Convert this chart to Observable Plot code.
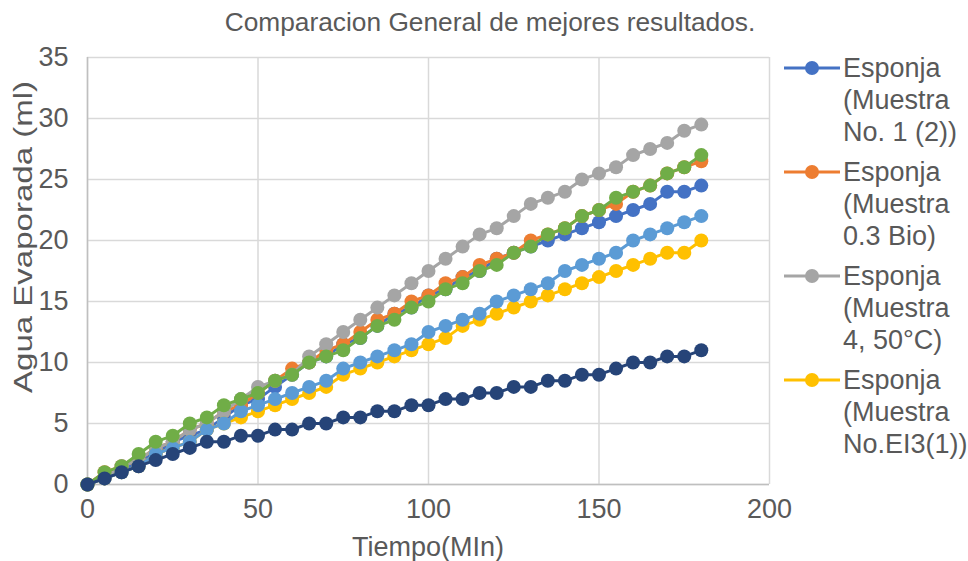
<!DOCTYPE html>
<html>
<head>
<meta charset="utf-8">
<script src="https://cdn.jsdelivr.net/npm/d3@7"></script>
<script src="https://cdn.jsdelivr.net/npm/@observablehq/plot@0.6"></script>
<style>
  html, body { margin: 0; padding: 0; background: #fff; }
  #wrap { position: relative; width: 968px; height: 561px; font-family: "Liberation Sans", Arial, sans-serif; color: #595959; overflow: hidden; }
  #plot { position: absolute; left: 0; top: 0; }
  .title { position: absolute; top: 22px; left: 490px; transform: translate(-50%, -50%); white-space: nowrap; font-size: 26.3px; line-height: 30px; }
  .ylab { position: absolute; left: 23px; top: 237px; transform: translate(-50%, -50%) rotate(-90deg) scaleX(1.27); white-space: nowrap; font-size: 26px; line-height: 30px; }
  .xlab { position: absolute; left: 428px; top: 547px; transform: translate(-50%, -50%); white-space: nowrap; font-size: 27px; line-height: 30px; }
  #legend { position: absolute; left: 784px; top: 52px; }
  .entry { display: flex; align-items: flex-start; margin-bottom: 8px; }
  .entry svg { flex: none; margin-top: 6px; }
  .entry .txt { font-size: 27px; line-height: 32px; margin-left: 3px; white-space: nowrap; }
</style>
</head>
<body>
<div id="wrap">
  <div id="plot"></div>
  <div class="title">Comparacion General de mejores resultados.</div>
  <div class="ylab">Agua Evaporada (ml)</div>
  <div class="xlab">Tiempo(MIn)</div>
  <div id="legend"></div>
</div>
<script>
// ---- data ----
const tiempo = [0,5,10,15,20,25,30,35,40,45,50,55,60,65,70,75,80,85,90,95,100,105,110,115,120,125,130,135,140,145,150,155,160,165,170,175,180];

const muestra1 = [0,0.5,1,2,2.5,3.5,4,4.5,5.5,6.5,7,8,9,10,10.5,11.5,12,13,14,14.5,15.5,16,17,17.5,18.5,19,19.5,20,20.5,21,21.5,22,22.5,23,24,24,24.5];
const muestraBio = [0,1,1.5,2,3,3.5,4.5,5,6,6.5,7.5,8.5,9.5,10,11,11.5,12.5,13.5,14,15,15.5,16.5,17,18,18.5,19,20,20.5,21,22,22.5,23,24,24.5,25.5,26,26.5];
const muestra4 = [0,0.5,1.5,2,3,3.5,4.5,5,6,7,8,8.5,9,10.5,11.5,12.5,13.5,14.5,15.5,16.5,17.5,18.5,19.5,20.5,21,22,23,23.5,24,25,25.5,26,27,27.5,28,29,29.5];
const muestraEI3 = [0,0.5,1,1.5,2.5,3,3.5,4.5,5,5.5,6,6.5,7,7.5,8,9,9.5,10,10.5,11,11.5,12,13,13.5,14,14.5,15,15.5,16,16.5,17,17.5,18,18.5,19,19,20];
const serie5 = [0,0.5,1,1.5,2.5,3,3.5,4.5,5,6,6.5,7,7.5,8,8.5,9.5,10,10.5,11,11.5,12.5,13,13.5,14,15,15.5,16,16.5,17.5,18,18.5,19,20,20.5,21,21.5,22];
const serie6 = [0,1,1.5,2.5,3.5,4,5,5.5,6.5,7,7.5,8.5,9,10,10.5,11,12,13,13.5,14.5,15,16,16.5,17.5,18,19,19.5,20.5,21,22,22.5,23.5,24,24.5,25.5,26,27];
const serie7 = [0,0.5,1,1.5,2,2.5,3,3.5,3.5,4,4,4.5,4.5,5,5,5.5,5.5,6,6,6.5,6.5,7,7,7.5,7.5,8,8,8.5,8.5,9,9,9.5,10,10,10.5,10.5,11];

const seriesNames = ["Esponja (Muestra No. 1 (2))", "Esponja (Muestra 0.3 Bio)", "Esponja (Muestra 4, 50°C)", "Esponja (Muestra No.EI3(1))", "Serie 5", "Serie 6", "Serie 7"];
const legendLines = [["Esponja", "(Muestra", "No. 1 (2))"], ["Esponja", "(Muestra", "0.3 Bio)"], ["Esponja", "(Muestra", "4, 50°C)"], ["Esponja", "(Muestra", "No.EI3(1))"]];
const seriesColors = ["#4472C4", "#ED7D31", "#A5A5A5", "#FFC000", "#5B9BD5", "#70AD47", "#264478"];
const seriesValues = [muestra1, muestraBio, muestra4, muestraEI3, serie5, serie6, serie7];

const xTicks = [0, 50, 100, 150, 200];
const yTicks = [0, 5, 10, 15, 20, 25, 30, 35];

// ---- build ----
const rows = seriesValues.map((vals, i) => vals.map((v, j) => ({serie: seriesNames[i], t: tiempo[j], v})));

const marks = [
  Plot.gridX(xTicks, {stroke: "#d9d9d9", strokeOpacity: 1, strokeWidth: 1.5}),
  Plot.gridY(yTicks, {stroke: "#d9d9d9", strokeOpacity: 1, strokeWidth: 1.5}),
  Plot.ruleY([0], {stroke: "#bfbfbf", strokeWidth: 1.5}),
  Plot.ruleX([0], {stroke: "#bfbfbf", strokeWidth: 1.5}),
  Plot.axisX(xTicks, {tickSize: 0, tickPadding: 14, fontSize: 27, fill: "#595959", label: null}),
  Plot.axisY(yTicks, {tickSize: 0, tickPadding: 19, fontSize: 27, fill: "#595959", label: null})
];
rows.forEach((r, i) => {
  marks.push(Plot.line(r, {x: "t", y: "v", stroke: seriesColors[i], strokeWidth: 3}));
  marks.push(Plot.dot(r, {x: "t", y: "v", r: 7, fill: seriesColors[i], stroke: "none"}));
});

const chart = Plot.plot({
  width: 968,
  height: 561,
  marginLeft: 87,
  marginRight: 199,
  marginTop: 57,
  marginBottom: 77,
  style: {fontFamily: "'Liberation Sans', Arial, sans-serif", color: "#595959", background: "#fff", overflow: "visible"},
  x: {domain: [0, 200]},
  y: {domain: [0, 35]},
  marks
});
document.getElementById("plot").appendChild(chart);

// legend (first four series, as shown in the original)
const legend = document.getElementById("legend");
legendLines.forEach((lines, i) => {
  const e = document.createElement("div");
  e.className = "entry";
  e.innerHTML = `<svg width="56" height="20"><line x1="0" y1="10" x2="56" y2="10" stroke="${seriesColors[i]}" stroke-width="3"/><circle cx="28" cy="10" r="7" fill="${seriesColors[i]}"/></svg>`;
  const t = document.createElement("div");
  t.className = "txt";
  t.innerHTML = lines.join("<br>");
  e.appendChild(t);
  legend.appendChild(e);
});
</script>
</body>
</html>
